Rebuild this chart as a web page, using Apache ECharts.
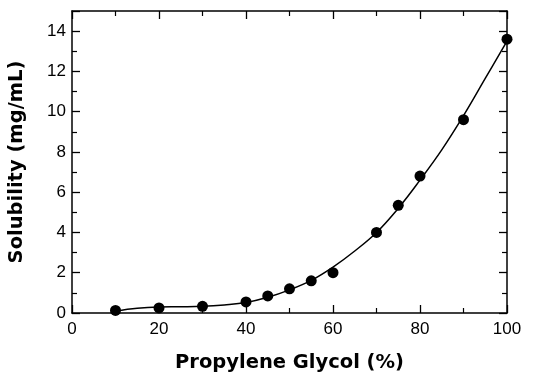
<!DOCTYPE html>
<html><head><meta charset="utf-8">
<script src="https://cdn.jsdelivr.net/npm/echarts@6/dist/echarts.min.js"></script>
<style>html,body{margin:0;padding:0;background:#fff}#c{width:545px;height:376px}</style>
</head><body><div id="c"></div>
<script>
var pgPercent = [10, 20, 30, 40, 45, 50, 55, 60, 70, 75, 80, 90, 100];
var solubility = [0.13, 0.25, 0.33, 0.55, 0.85, 1.2, 1.6, 2.0, 4.0, 5.35, 6.8, 9.6, 13.6];
var fitX = [10, 15, 20, 25, 30, 35, 40, 45, 50, 55, 60, 65, 70, 75, 80, 85, 90, 95, 100];
var fitY = [0.1, 0.24, 0.3, 0.31, 0.33, 0.4, 0.52, 0.78, 1.15, 1.62, 2.28, 3.08, 4.0, 5.2, 6.6, 8.1, 9.8, 11.65, 13.5];
var xTitle = 'Propylene Glycol (%)';
var yTitle = 'Solubility (mg/mL)';

var font = '"Liberation Sans", Arial, Helvetica, sans-serif';
var titleFont = '"DejaVu Sans", "Liberation Sans", sans-serif';
function axisCommon(showLabel, margin) {
  return {
    axisLine: {show: true, onZero: false, lineStyle: {color: '#000', width: 1.5}},
    axisTick: {show: true, inside: true, length: 8, lineStyle: {color: '#000', width: 1.3}},
    minorTick: {show: true, splitNumber: 2, length: 5, lineStyle: {color: '#000', width: 1.2}},
    splitLine: {show: false},
    axisLabel: {show: showLabel, color: '#000', fontSize: 17, fontFamily: font, margin: margin}
  };
}
var chart = echarts.init(document.getElementById('c'), null, {renderer: 'canvas'});
var xb = Object.assign({type: 'value', min: 0, max: 100, interval: 20, position: 'bottom',
  name: xTitle, nameLocation: 'middle', nameGap: 40,
  nameTextStyle: {fontSize: 19.5, fontWeight: 'bold', color: '#000', fontFamily: titleFont}}, axisCommon(true, 8));
var xt = Object.assign({type: 'value', min: 0, max: 100, interval: 20, position: 'top'}, axisCommon(false, 8));
var yl = Object.assign({type: 'value', min: 0, max: 15, interval: 2, position: 'left',
  name: yTitle, nameLocation: 'middle', nameGap: 45,
  nameTextStyle: {fontSize: 19.5, fontWeight: 'bold', color: '#000', fontFamily: titleFont}}, axisCommon(true, 6));
yl.axisLabel.formatter = function (v) { return v % 2 === 0 && v <= 14 ? String(v) : ''; };
var yr = Object.assign({type: 'value', min: 0, max: 15, interval: 2, position: 'right'}, axisCommon(false, 6));
chart.setOption({
  animation: false,
  grid: {left: 72, right: 38, top: 11, bottom: 63, containLabel: false, outerBoundsMode: 'none'},
  xAxis: [xb, xt],
  yAxis: [yl, yr],
  series: [
    {type: 'line', data: fitX.map(function (x, i) { return [x, fitY[i]]; }), smooth: 0.4,
      showSymbol: false, lineStyle: {color: '#000', width: 1.5}, z: 2},
    {type: 'scatter', data: pgPercent.map(function (x, i) { return [x, solubility[i]]; }),
      symbol: 'circle', symbolSize: 11, itemStyle: {color: '#000', opacity: 1}, z: 3}
  ]
});
</script></body></html>
